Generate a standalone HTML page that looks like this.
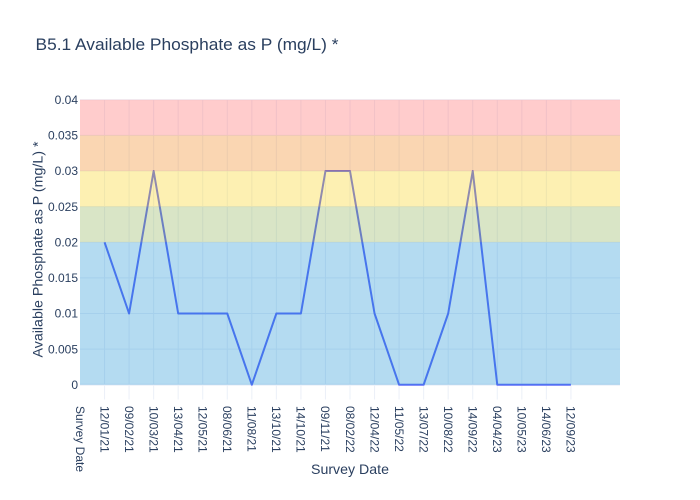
<!DOCTYPE html>
<html>
<head>
<meta charset="utf-8">
<style>
  html, body { margin: 0; padding: 0; background: #ffffff; }
  svg { display: block; }
  text { font-family: "Liberation Sans", "DejaVu Sans", sans-serif; fill: #2a3f5f; }
</style>
</head>
<body>
<svg width="700" height="500" viewBox="0 0 700 500" xmlns="http://www.w3.org/2000/svg">
  <rect x="0" y="0" width="700" height="500" fill="#ffffff"/>

  <!-- vertical grid lines -->
  <g stroke="#ebf0f8" stroke-width="1">
    <line x1="104.55" y1="99.75" x2="104.55" y2="399.5"/>
    <line x1="129.09" y1="99.75" x2="129.09" y2="399.5"/>
    <line x1="153.64" y1="99.75" x2="153.64" y2="399.5"/>
    <line x1="178.18" y1="99.75" x2="178.18" y2="399.5"/>
    <line x1="202.73" y1="99.75" x2="202.73" y2="399.5"/>
    <line x1="227.27" y1="99.75" x2="227.27" y2="399.5"/>
    <line x1="251.82" y1="99.75" x2="251.82" y2="399.5"/>
    <line x1="276.36" y1="99.75" x2="276.36" y2="399.5"/>
    <line x1="300.91" y1="99.75" x2="300.91" y2="399.5"/>
    <line x1="325.45" y1="99.75" x2="325.45" y2="399.5"/>
    <line x1="350" y1="99.75" x2="350" y2="399.5"/>
    <line x1="374.55" y1="99.75" x2="374.55" y2="399.5"/>
    <line x1="399.09" y1="99.75" x2="399.09" y2="399.5"/>
    <line x1="423.64" y1="99.75" x2="423.64" y2="399.5"/>
    <line x1="448.18" y1="99.75" x2="448.18" y2="399.5"/>
    <line x1="472.73" y1="99.75" x2="472.73" y2="399.5"/>
    <line x1="497.27" y1="99.75" x2="497.27" y2="399.5"/>
    <line x1="521.82" y1="99.75" x2="521.82" y2="399.5"/>
    <line x1="546.36" y1="99.75" x2="546.36" y2="399.5"/>
    <line x1="570.91" y1="99.75" x2="570.91" y2="399.5"/>
  </g>
  <!-- horizontal grid lines -->
  <g stroke="#ebf0f8" stroke-width="1">
    <line x1="80" y1="99.75" x2="620" y2="99.75"/>
    <line x1="80" y1="135.38" x2="620" y2="135.38"/>
    <line x1="80" y1="171" x2="620" y2="171"/>
    <line x1="80" y1="206.63" x2="620" y2="206.63"/>
    <line x1="80" y1="242.25" x2="620" y2="242.25"/>
    <line x1="80" y1="277.88" x2="620" y2="277.88"/>
    <line x1="80" y1="313.5" x2="620" y2="313.5"/>
    <line x1="80" y1="349.13" x2="620" y2="349.13"/>
  </g>
  <!-- zero line -->
  <line x1="80" y1="384.75" x2="620" y2="384.75" stroke="#ebf0f8" stroke-width="2"/>

  <!-- data line -->
  <polyline fill="none" stroke="#636efa" stroke-width="2" stroke-linejoin="round"
    points="104.55,242.25 129.09,313.5 153.64,171 178.18,313.5 202.73,313.5 227.27,313.5 251.82,384.75 276.36,313.5 300.91,313.5 325.45,171 350,171 374.55,313.5 399.09,384.75 423.64,384.75 448.18,313.5 472.73,171 497.27,384.75 521.82,384.75 546.36,384.75 570.91,384.75"/>

  <!-- bands (above the trace, semi-transparent) -->
  <g fill-opacity="0.3">
    <rect x="80" y="99.75" width="540" height="35.63" fill="rgb(255,85,85)"/>
    <rect x="80" y="135.38" width="540" height="35.62" fill="rgb(238,118,0)"/>
    <rect x="80" y="171" width="540" height="35.63" fill="rgb(248,205,0)"/>
    <rect x="80" y="206.63" width="540" height="35.62" fill="rgb(128,168,65)"/>
    <rect x="80" y="242.25" width="540" height="142.5" fill="rgb(5,135,208)"/>
  </g>

  <!-- y tick labels -->
  <g font-size="12" text-anchor="end">
    <text x="78" y="99.75" dy="0.35em">0.04</text>
    <text x="78" y="135.38" dy="0.35em">0.035</text>
    <text x="78" y="171" dy="0.35em">0.03</text>
    <text x="78" y="206.63" dy="0.35em">0.025</text>
    <text x="78" y="242.25" dy="0.35em">0.02</text>
    <text x="78" y="277.88" dy="0.35em">0.015</text>
    <text x="78" y="313.5" dy="0.35em">0.01</text>
    <text x="78" y="349.13" dy="0.35em">0.005</text>
    <text x="78" y="384.75" dy="0.35em">0</text>
  </g>

  <!-- x tick labels (rotated 90deg) -->
  <g font-size="12" text-anchor="start">
    <text transform="translate(80,406) rotate(90)" dy="0.35em">Survey Date</text>
    <text transform="translate(104.55,406) rotate(90)" dy="0.35em">12/01/21</text>
    <text transform="translate(129.09,406) rotate(90)" dy="0.35em">09/02/21</text>
    <text transform="translate(153.64,406) rotate(90)" dy="0.35em">10/03/21</text>
    <text transform="translate(178.18,406) rotate(90)" dy="0.35em">13/04/21</text>
    <text transform="translate(202.73,406) rotate(90)" dy="0.35em">12/05/21</text>
    <text transform="translate(227.27,406) rotate(90)" dy="0.35em">08/06/21</text>
    <text transform="translate(251.82,406) rotate(90)" dy="0.35em">11/08/21</text>
    <text transform="translate(276.36,406) rotate(90)" dy="0.35em">13/10/21</text>
    <text transform="translate(300.91,406) rotate(90)" dy="0.35em">14/10/21</text>
    <text transform="translate(325.45,406) rotate(90)" dy="0.35em">09/11/21</text>
    <text transform="translate(350,406) rotate(90)" dy="0.35em">08/02/22</text>
    <text transform="translate(374.55,406) rotate(90)" dy="0.35em">12/04/22</text>
    <text transform="translate(399.09,406) rotate(90)" dy="0.35em">11/05/22</text>
    <text transform="translate(423.64,406) rotate(90)" dy="0.35em">13/07/22</text>
    <text transform="translate(448.18,406) rotate(90)" dy="0.35em">10/08/22</text>
    <text transform="translate(472.73,406) rotate(90)" dy="0.35em">14/09/22</text>
    <text transform="translate(497.27,406) rotate(90)" dy="0.35em">04/04/23</text>
    <text transform="translate(521.82,406) rotate(90)" dy="0.35em">10/05/23</text>
    <text transform="translate(546.36,406) rotate(90)" dy="0.35em">14/06/23</text>
    <text transform="translate(570.91,406) rotate(90)" dy="0.35em">12/09/23</text>
  </g>

  <!-- axis titles -->
  <text x="350" y="474" font-size="14" text-anchor="middle" textLength="78" lengthAdjust="spacingAndGlyphs">Survey Date</text>
  <text transform="translate(42.5,249.5) rotate(-90)" font-size="14" text-anchor="middle" textLength="216" lengthAdjust="spacingAndGlyphs">Available Phosphate as P (mg/L) *</text>

  <!-- title -->
  <text x="35.5" y="50" font-size="17" textLength="303" lengthAdjust="spacingAndGlyphs">B5.1 Available Phosphate as P (mg/L) *</text>
</svg>
</body>
</html>
